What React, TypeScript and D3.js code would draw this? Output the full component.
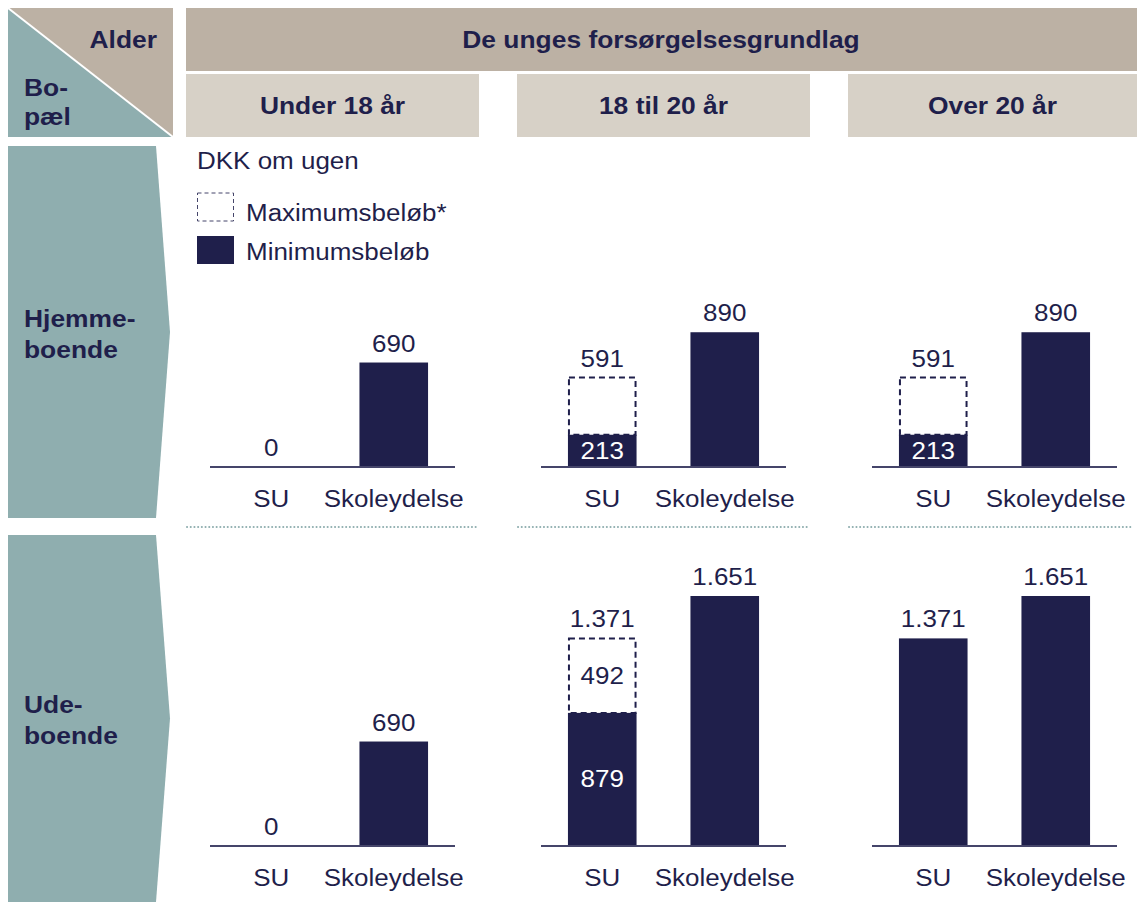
import React from 'react';
import * as d3 from 'd3';

const CATEGORIES = ['SU', 'Skoleydelse'];
const AGE_GROUPS = ['Under 18 år', '18 til 20 år', 'Over 20 år'];
const RESIDENCE = [['Hjemme-', 'boende'], ['Ude-', 'boende']];
const CORNER_TOP = 'Alder';
const CORNER_BOTTOM = ['Bo-', 'pæl'];
const SUPER_HEADER = 'De unges forsørgelsesgrundlag';
const UNIT_LABEL = 'DKK om ugen';
const LEGEND = ['Maximumsbeløb*', 'Minimumsbeløb'];

// [SU, Skoleydelse] per age group
const HOME_MIN = [[0, 690], [213, 890], [213, 890]];
const HOME_MAX = [[null, null], [591, null], [591, null]];
const HOME_GAP_LABEL = [[null, null], [null, null], [null, null]];
const AWAY_MIN = [[0, 690], [879, 1651], [1371, 1651]];
const AWAY_MAX = [[null, null], [1371, null], [null, null]];
const AWAY_GAP_LABEL = [[null, null], [492, null], [null, null]];

const ROWS = [
  { min: HOME_MIN, max: HOME_MAX, gap: HOME_GAP_LABEL },
  { min: AWAY_MIN, max: AWAY_MAX, gap: AWAY_GAP_LABEL },
];

const NAVY = '#1f1f4b';
const BEIGE = '#bcb1a4';
const LIGHT = '#d7d1c7';
const TEAL = '#8faeaf';
const AXIS = '#45456a';
const FONT = '"Liberation Sans", Arial, sans-serif';

const loc = d3.formatLocale({ decimal: ',', thousands: '.', grouping: [3], currency: ['', ''] });
const fmt = loc.format(',');

function T({ x, y, children, anchor = 'start', bold = false, fill = NAVY }: any) {
  const size = bold ? 24 : 23;
  const sx = bold ? 1.1 : 1.13;
  return (
    <text
      transform={`translate(${x},${y}) scale(${sx},1)`}
      textAnchor={anchor}
      fontFamily={FONT}
      fontSize={size}
      fontWeight={bold ? 'bold' : 'normal'}
      fill={fill}
    >
      {children}
    </text>
  );
}

export default function App() {
  const W = 1137;
  const H = 903;
  const panelLefts = [186, 517, 848];
  const panelW = 293;
  const baselines = [467, 846];
  const y = d3.scaleLinear().domain([0, 1651]).range([0, 250]);
  const x = d3.scaleBand<string>().domain(CATEGORIES).range([0, 245]).paddingInner(0.44).paddingOuter(0.22);
  const bw = x.bandwidth();

  const rowBoxes = [
    { top: 146, bottom: 518 },
    { top: 535, bottom: 902 },
  ];

  return (
    <svg width={W} height={H} style={{ position: 'absolute', left: 0, top: 0, display: 'block' }}>
      <rect x={0} y={0} width={W} height={H} fill="#fff" />
      {/* corner */}
      <rect x={8} y={8} width={165} height={129} fill={BEIGE} />
      <polygon points="8,8 8,137 173,137" fill={TEAL} />
      <line x1={8} y1={8} x2={173} y2={137} stroke="#fff" strokeWidth={2} />
      <T x={157} y={48} anchor="end" bold>{CORNER_TOP}</T>
      <T x={24} y={96} bold>{CORNER_BOTTOM[0]}</T>
      <T x={24} y={125} bold>{CORNER_BOTTOM[1]}</T>

      {/* headers */}
      <rect x={186} y={8} width={W - 186} height={63} fill={BEIGE} />
      <T x={661} y={48} anchor="middle" bold>{SUPER_HEADER}</T>
      {AGE_GROUPS.map((g, i) => (
        <g key={g}>
          <rect x={panelLefts[i]} y={74} width={i === 2 ? W - panelLefts[i] : panelW} height={63} fill={LIGHT} />
          <T x={panelLefts[i] + (i === 2 ? (W - panelLefts[i]) / 2 : panelW / 2)} y={114} anchor="middle" bold>{g}</T>
        </g>
      ))}

      {/* row headers */}
      {RESIDENCE.map((lines, r) => {
        const { top, bottom } = rowBoxes[r];
        const mid = (top + bottom) / 2;
        return (
          <g key={r}>
            <polygon points={`8,${top} 156,${top} 170,${mid} 156,${bottom} 8,${bottom}`} fill={TEAL} />
            <T x={24} y={r === 0 ? 327 : 713} bold>{lines[0]}</T>
            <T x={24} y={r === 0 ? 358 : 744} bold>{lines[1]}</T>
          </g>
        );
      })}

      {/* legend */}
      <T x={197} y={169}>{UNIT_LABEL}</T>
      <rect x={197.5} y={193} width={36} height={28} fill="#fff" stroke={AXIS} strokeWidth={1} strokeDasharray="4,3" />
      <T x={246} y={221}>{LEGEND[0]}</T>
      <rect x={197} y={236} width={37} height={28} fill={NAVY} />
      <T x={246} y={260}>{LEGEND[1]}</T>

      {/* separator */}
      {panelLefts.map((pl, i) => (
        <line key={i} x1={pl + 1} x2={i === 2 ? 1133 : pl + panelW} y1={527} y2={527}
          stroke={TEAL} strokeWidth={2} strokeDasharray="0.1,3.6" strokeLinecap="round" />
      ))}

      {/* panels */}
      {ROWS.map((row, r) => {
        const base = baselines[r];
        return panelLefts.map((pl, p) => {
          const ax = pl + 24;
          return (
            <g key={`${r}-${p}`}>
              {CATEGORIES.map((c, ci) => {
                const mn = row.min[p][ci] as number;
                const mx = row.max[p][ci] as number | null;
                const gap = row.gap[p][ci] as number | null;
                const bx = ax + (x(c) as number);
                const cx = bx + bw / 2;
                const hMin = y(mn);
                const topVal = mx != null ? mx : mn;
                const topY = base - y(topVal);
                return (
                  <g key={c}>
                    {mx != null && (
                      <rect x={bx + 1} y={base - y(mx)} width={bw - 2} height={y(mx) - hMin}
                        fill="#fff" stroke={NAVY} strokeWidth={2} strokeDasharray="6,4" />
                    )}
                    {mn > 0 && <rect x={bx} y={base - hMin} width={bw} height={hMin} fill={NAVY} />}
                    {mx != null && (
                      <T x={cx} y={base - hMin / 2 + 8} anchor="middle" fill="#fff">{fmt(mn)}</T>
                    )}
                    {gap != null && (
                      <T x={cx} y={base - (y(mx as number) + hMin) / 2 + 8} anchor="middle">{fmt(gap)}</T>
                    )}
                    <T x={cx} y={topY - 11} anchor="middle">{fmt(topVal)}</T>
                    <T x={cx} y={base + 40} anchor="middle">{c}</T>
                  </g>
                );
              })}
              <line x1={ax} x2={ax + 245} y1={base} y2={base} stroke={AXIS} strokeWidth={2} />
            </g>
          );
        });
      })}
    </svg>
  );
}
